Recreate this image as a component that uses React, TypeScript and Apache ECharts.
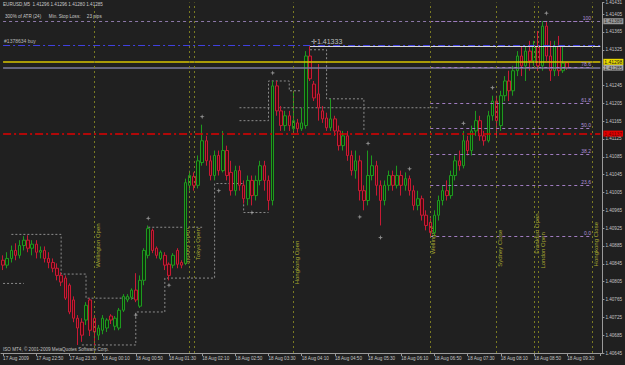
import React, { useEffect, useRef } from 'react';
import * as echarts from 'echarts';

// EURUSD M5, 17 Aug 2009 22:10 -> 18 Aug 2009 09:30
const opens = [1.40853,1.40842,1.40857,1.40875,1.40864,1.40886,1.40898,1.40880,1.40889,1.40871,1.40875,1.40857,1.40848,1.40835,1.40819,1.40813,1.40797,1.40764,1.40723,1.40714,1.40719,1.40764,1.40723,1.40685,1.40696,1.40701,1.40728,1.40705,1.40701,1.40741,1.40764,1.40770,1.40786,1.40750,1.40808,1.40864,1.40920,1.40880,1.40857,1.40864,1.40844,1.40842,1.40875,1.40848,1.40846,1.41021,1.41041,1.41021,1.41072,1.41121,1.41076,1.41043,1.41088,1.41054,1.41099,1.41050,1.41009,1.41054,1.41021,1.40991,1.41032,1.40998,1.41032,1.41065,1.41032,1.40987,1.41244,1.41188,1.41155,1.41177,1.41148,1.41161,1.41148,1.41155,1.41311,1.41248,1.41226,1.41188,1.41172,1.41150,1.41170,1.41143,1.41110,1.41132,1.41088,1.41054,1.41076,1.41009,1.40987,1.41043,1.41065,1.41021,1.40987,1.41021,1.41043,1.41021,1.41043,1.41021,1.41036,1.41009,1.40976,1.40991,1.40954,1.40938,1.40915,1.40954,1.40987,1.41009,1.40998,1.41043,1.41076,1.41065,1.41121,1.41099,1.41143,1.41166,1.41132,1.41121,1.41177,1.41210,1.41155,1.41222,1.41255,1.41233,1.41278,1.41311,1.41289,1.41322,1.41300,1.41333,1.41289,1.41378,1.41311,1.41278,1.41333,1.41278,1.41296];
const closes = [1.40842,1.40857,1.40875,1.40864,1.40886,1.40898,1.40880,1.40889,1.40871,1.40875,1.40857,1.40848,1.40835,1.40819,1.40804,1.40768,1.40737,1.40723,1.40701,1.40685,1.40752,1.40696,1.40692,1.40701,1.40723,1.40719,1.40719,1.40723,1.40741,1.40772,1.40772,1.40786,1.40764,1.40808,1.40875,1.40924,1.40875,1.40864,1.40871,1.40842,1.40819,1.40864,1.40844,1.40842,1.41027,1.41043,1.41021,1.41076,1.41121,1.41076,1.41043,1.41088,1.41054,1.41099,1.41043,1.41009,1.41054,1.41021,1.40991,1.41032,1.40998,1.41032,1.41065,1.41032,1.40987,1.41244,1.41188,1.41155,1.41177,1.41155,1.41166,1.41148,1.41161,1.41311,1.41260,1.41217,1.41195,1.41170,1.41150,1.41170,1.41143,1.41110,1.41132,1.41088,1.41054,1.41076,1.41009,1.40987,1.41043,1.41065,1.41021,1.40987,1.41021,1.41043,1.41021,1.41043,1.41021,1.41036,1.41009,1.40976,1.40991,1.40954,1.40931,1.40915,1.40954,1.40987,1.41009,1.40998,1.41043,1.41076,1.41065,1.41121,1.41099,1.41143,1.41166,1.41132,1.41121,1.41177,1.41210,1.41166,1.41222,1.41255,1.41233,1.41278,1.41311,1.41289,1.41322,1.41300,1.41333,1.41289,1.41378,1.41311,1.41278,1.41333,1.41278,1.41295,1.41285];
const lows = [1.40831,1.40835,1.40848,1.40853,1.40857,1.40875,1.40871,1.40864,1.40857,1.40857,1.40848,1.40835,1.40826,1.40808,1.40795,1.40764,1.40732,1.40714,1.40663,1.40670,1.40708,1.40683,1.40663,1.40674,1.40687,1.40692,1.40710,1.40696,1.40696,1.40737,1.40759,1.40764,1.40759,1.40746,1.40797,1.40857,1.40869,1.40857,1.40853,1.40831,1.40808,1.40835,1.40835,1.40835,1.40842,1.41009,1.41009,1.41014,1.41065,1.41065,1.41032,1.41032,1.41043,1.41050,1.41032,1.40998,1.40998,1.41009,1.40980,1.40976,1.40976,1.40987,1.41021,1.41009,1.40965,1.40976,1.41177,1.41143,1.41143,1.41143,1.41143,1.41139,1.41143,1.41148,1.41255,1.41210,1.41166,1.41161,1.41143,1.41143,1.41132,1.41099,1.41099,1.41076,1.41043,1.41036,1.40987,1.40965,1.40976,1.41032,1.40998,1.40931,1.40976,1.41009,1.41009,1.41014,1.40998,1.41009,1.40998,1.40965,1.40965,1.40942,1.40920,1.40907,1.40909,1.40942,1.40976,1.40987,1.40991,1.41032,1.41054,1.41059,1.41088,1.41088,1.41132,1.41121,1.41110,1.41117,1.41166,1.41132,1.41143,1.41210,1.41210,1.41222,1.41266,1.41266,1.41255,1.41278,1.41289,1.41278,1.41278,1.41300,1.41255,1.41266,1.41266,1.41273,1.41280];
const highs = [1.40864,1.40871,1.40886,1.40891,1.40898,1.40907,1.40909,1.40898,1.40898,1.40884,1.40884,1.40871,1.40857,1.40846,1.40826,1.40819,1.40801,1.40772,1.40730,1.40723,1.40759,1.40768,1.40730,1.40708,1.40730,1.40723,1.40732,1.40728,1.40746,1.40777,1.40777,1.40790,1.40824,1.40819,1.40880,1.40931,1.40924,1.40884,1.40875,1.40871,1.40848,1.40869,1.40880,1.40853,1.41036,1.41054,1.41050,1.41088,1.41157,1.41132,1.41088,1.41099,1.41099,1.41143,1.41110,1.41076,1.41065,1.41065,1.41032,1.41043,1.41043,1.41043,1.41076,1.41076,1.41043,1.41255,1.41255,1.41199,1.41188,1.41188,1.41233,1.41170,1.41195,1.41322,1.41333,1.41255,1.41293,1.41199,1.41184,1.41215,1.41177,1.41155,1.41143,1.41143,1.41099,1.41099,1.41088,1.41021,1.41099,1.41088,1.41076,1.41032,1.41032,1.41054,1.41054,1.41065,1.41054,1.41050,1.41043,1.41021,1.41009,1.40998,1.40965,1.40947,1.40965,1.40998,1.41021,1.41032,1.41054,1.41088,1.41099,1.41143,1.41132,1.41155,1.41188,1.41177,1.41143,1.41188,1.41222,1.41222,1.41233,1.41266,1.41278,1.41289,1.41322,1.41333,1.41333,1.41345,1.41345,1.41367,1.41389,1.41389,1.41345,1.41345,1.41356,1.41333,1.41296];

const timeTickLabels = ['17 Aug 2009','17 Aug 22:50','17 Aug 23:30','18 Aug 00:10','18 Aug 00:50','18 Aug 01:30','18 Aug 02:10','18 Aug 02:50','18 Aug 03:30','18 Aug 04:10','18 Aug 04:50','18 Aug 05:30','18 Aug 06:10','18 Aug 06:50','18 Aug 07:30','18 Aug 08:10','18 Aug 08:50','18 Aug 09:30'];
const BARS_PER_TICK = 8;
const EMPTY_BARS_RIGHT = 8;

// horizontal objects
const orderPrice = 1.41336;
const highMarkPrice = 1.41333;
const highMarkBar = 74;
const askPrice = 1.41298;
const bidPrice = 1.41285;
const redLinePrice = 1.41137;
const grayLevelPrice = 1.41205;

// fibonacci retracement
const fibNames = ['100', '78.6', '61.8', '50.0', '38.2', '23.6', '0.0'];
const fibPrices = [1.41389, 1.41286, 1.41205, 1.41148, 1.41091, 1.41021, 1.40907];
const fibStartBar = 103;

// sessions
const sessionNames = ['Wellington Open', 'Sydney Open', 'Tokyo Open', 'Hongkong Open', 'Wellington', 'Sydney Close', 'Frankfurt Open', 'London Open', 'Hongkong Close'];
const sessionBars = [22, 45, 46, 70, 103, 119, 128, 129, 142];
const sessionLabelPrices = [1.40886, 1.40884, 1.40889, 1.40848, 1.40898, 1.40880, 1.40913, 1.40875, 1.40889];
const sessionLabelDx = [4, -3, 4, 4, 3, 3, 3, 5, 4];

// ATR stop step lines: [bar, price] vertices per run
const stopRunUpperA = [[2, 1.40911], [14, 1.40911], [14, 1.40822], [20, 1.40822], [20, 1.40768], [32, 1.40768]];
const stopRunLowerA = [[19, 1.40663], [32, 1.40663], [32, 1.40737], [39, 1.40737], [39, 1.40813], [51, 1.40813], [51, 1.41025], [58, 1.41025], [58, 1.40960], [64, 1.40960]];
const stopRunUpperB = [[35, 1.40927], [48, 1.40927]];
const stopRunUpperC = [[57, 1.41166], [64, 1.41166], [64, 1.41255], [69, 1.41255], [69, 1.41233], [72, 1.41233]];
const stopRunUpperD = [[74, 1.41325], [78, 1.41325], [78, 1.41215], [87, 1.41215], [87, 1.41143]];
const stopRunLeft = [[0, 1.40801], [5, 1.40801]];
const levelLine = [[57, 1.41195], [105, 1.41195]];

// fractal arrows [bar, price]
const fractals = [[35, 1.40947], [40, 1.40797], [32, 1.40730], [52, 1.41009], [60, 1.40960], [65, 1.41273], [48, 1.41175], [86, 1.40950], [88, 1.41115], [91, 1.40904], [98, 1.41058], [111, 1.41160], [118, 1.41240], [131, 1.41407]];

export default function App() {
  const ref = useRef<HTMLDivElement>(null);
  useEffect(() => {
    document.body.style.margin = '0';
    const el = ref.current!;
    const chart = echarts.init(el, undefined, { renderer: 'svg' });
    const n = opens.length + EMPTY_BARS_RIGHT;
    const cats = Array.from({ length: n }, (_, i) => 'b' + i);
    const candles = opens.map((o, i) => [o, closes[i], lows[i], highs[i]]);
    const last = n - 1;
    const font = 'Liberation Sans';
    const axisBox = (txt: string, bg: string, fg: string) => ({
      show: true, position: 'end', distance: 3, formatter: txt, backgroundColor: bg, color: fg,
      fontSize: 5, fontFamily: font, padding: [1, 1, 0, 1],
    });
    const hLine = (p: number, from: number, lineStyle: any, label: any) => [
      { coord: [from, p], lineStyle, label },
      { coord: [last, p] },
    ];
    const markData: any[] = [
      hLine(orderPrice, 0, { color: '#4040e0', type: [7, 3, 2, 3], width: 1 },
        { show: true, position: 'insideStartTop', formatter: '#1378634 buy', color: '#b8b8b8', fontSize: 5, fontFamily: font, distance: 1 }),
      hLine(highMarkPrice, highMarkBar, { color: '#d8d8d8', type: 'solid', width: 1.2 },
        { show: true, position: 'insideStartTop', formatter: '\u271B1.41333', color: '#bdbdbd', fontSize: 7, fontFamily: font, distance: 1 }),
      hLine(grayLevelPrice, 0, { opacity: 0 }, axisBox(grayLevelPrice.toFixed(5), '#9a9a9a', '#303030')),
      hLine(bidPrice, 0, { color: '#7c7c9c', type: 'solid', width: 1.5 }, axisBox(bidPrice.toFixed(5), '#a8a8a8', '#303030')),
      hLine(askPrice, 0, { color: '#d8c400', type: 'solid', width: 1.5 }, axisBox(askPrice.toFixed(5), '#e8d800', '#202020')),
      hLine(redLinePrice, 0, { color: '#e00000', type: [8, 3, 2, 3], width: 1.5 }, axisBox(redLinePrice.toFixed(5), '#e00000', '#700000')),
      hLine(fibPrices[0], 0, { color: '#8c78a8', type: [3, 3], width: 1 }, axisBox(fibPrices[0].toFixed(5), '#9a9a9a', '#303030')),
    ];
    fibPrices.forEach((p, k) => {
      markData.push([
        { coord: [fibStartBar, p], lineStyle: { color: '#a07cc0', type: [3, 3], width: 1 },
          label: { show: true, position: 'insideEndTop', formatter: fibNames[k], color: '#b090d8', fontSize: 5, fontFamily: font, distance: 1 } },
        { coord: [last - 2, p] },
      ]);
    });
    sessionBars.forEach((b) => {
      markData.push({ xAxis: b, lineStyle: { color: '#7a7a22', type: [2, 3], width: 1 }, label: { show: false } });
    });

    const stepSeries = [stopRunUpperA, stopRunLowerA, stopRunUpperB, stopRunUpperC, stopRunUpperD, stopRunLeft, levelLine].map((run) => ({
      type: 'line', data: run, symbol: 'none', silent: true, z: 1,
      lineStyle: { color: '#8c8c8c', type: [2, 2], width: 1 },
    }));

    chart.setOption({
      animation: false,
      backgroundColor: '#202020',
      grid: { left: 1, right: 21, top: 2, bottom: 12, containLabel: false },
      xAxis: {
        type: 'category', data: cats, boundaryGap: true,
        axisLine: { lineStyle: { color: '#9a9a9a' } },
        axisTick: { show: true, interval: (i: number) => i % BARS_PER_TICK === 0, length: 3, lineStyle: { color: '#9a9a9a' }, alignWithLabel: true },
        axisLabel: {
          interval: (i: number) => i % BARS_PER_TICK === 0 && i / BARS_PER_TICK < timeTickLabels.length,
          formatter: (_v: string, i: number) => timeTickLabels[i / BARS_PER_TICK] || '',
          color: '#c4c4c4', fontSize: 4.6, fontFamily: font, align: 'left', margin: 3,
        },
        splitLine: { show: false },
      },
      yAxis: {
        type: 'value', position: 'right', scale: true,
        min: 1.40645, max: 1.41431, interval: 0.0004,
        axisLine: { show: true, lineStyle: { color: '#9a9a9a' } },
        axisTick: { show: true, length: 2, lineStyle: { color: '#9a9a9a' } },
        axisLabel: { formatter: (v: number) => v.toFixed(5), color: '#c4c4c4', fontSize: 4.6, fontFamily: font, margin: 3 },
        splitLine: { show: false },
      },
      series: [
        ...stepSeries,
        {
          type: 'candlestick', data: candles, barWidth: 3, z: 3,
          itemStyle: { color: '#0e300e', color0: '#4a0810', borderColor: '#1e9a1e', borderColor0: '#c81a34', borderWidth: 1 },
          markLine: { silent: true, symbol: ['none', 'none'], animation: false, data: markData },
        },
        {
          type: 'scatter', data: fractals, silent: true, z: 4,
          symbol: 'path://M0,-4L1,-1L4,0L1,1L0,4L-1,1L-4,0L-1,-1Z', symbolSize: 5,
          itemStyle: { color: '#a8a8a8' },
        },
      ],
    });

    const texts: any[] = sessionNames.map((name, k) => {
      const [px, py] = chart.convertToPixel({ gridIndex: 0 }, [sessionBars[k], sessionLabelPrices[k]]) as number[];
      return {
        type: 'text', x: px + sessionLabelDx[k], y: py, rotation: Math.PI / 2,
        style: { text: name, fill: '#a8a830', fontSize: 6, fontFamily: font, align: 'center', verticalAlign: 'middle' },
        silent: true,
      };
    });
    texts.push(
      { type: 'text', left: 3, top: 2, style: { text: 'EURUSD,M5  1.41296 1.41296 1.41280 1.41285', fill: '#c8c8c8', fontSize: 4.6, fontFamily: font } },
      { type: 'text', left: 5, top: 14, style: { text: '300% of ATR (24)      Min. Stop Loss:     23 pips', fill: '#c8c8c8', fontSize: 4.6, fontFamily: font } },
      { type: 'text', left: 3, top: 347, style: { text: 'ISO MT4, \u00A9 2001-2009 MetaQuotes Software Corp.', fill: '#c0c0c0', fontSize: 4.6, fontFamily: font } },
    );
    chart.setOption({ graphic: texts });
    return () => chart.dispose();
  }, []);
  return <div ref={ref} style={{ width: 625, height: 365 }} />;
}
